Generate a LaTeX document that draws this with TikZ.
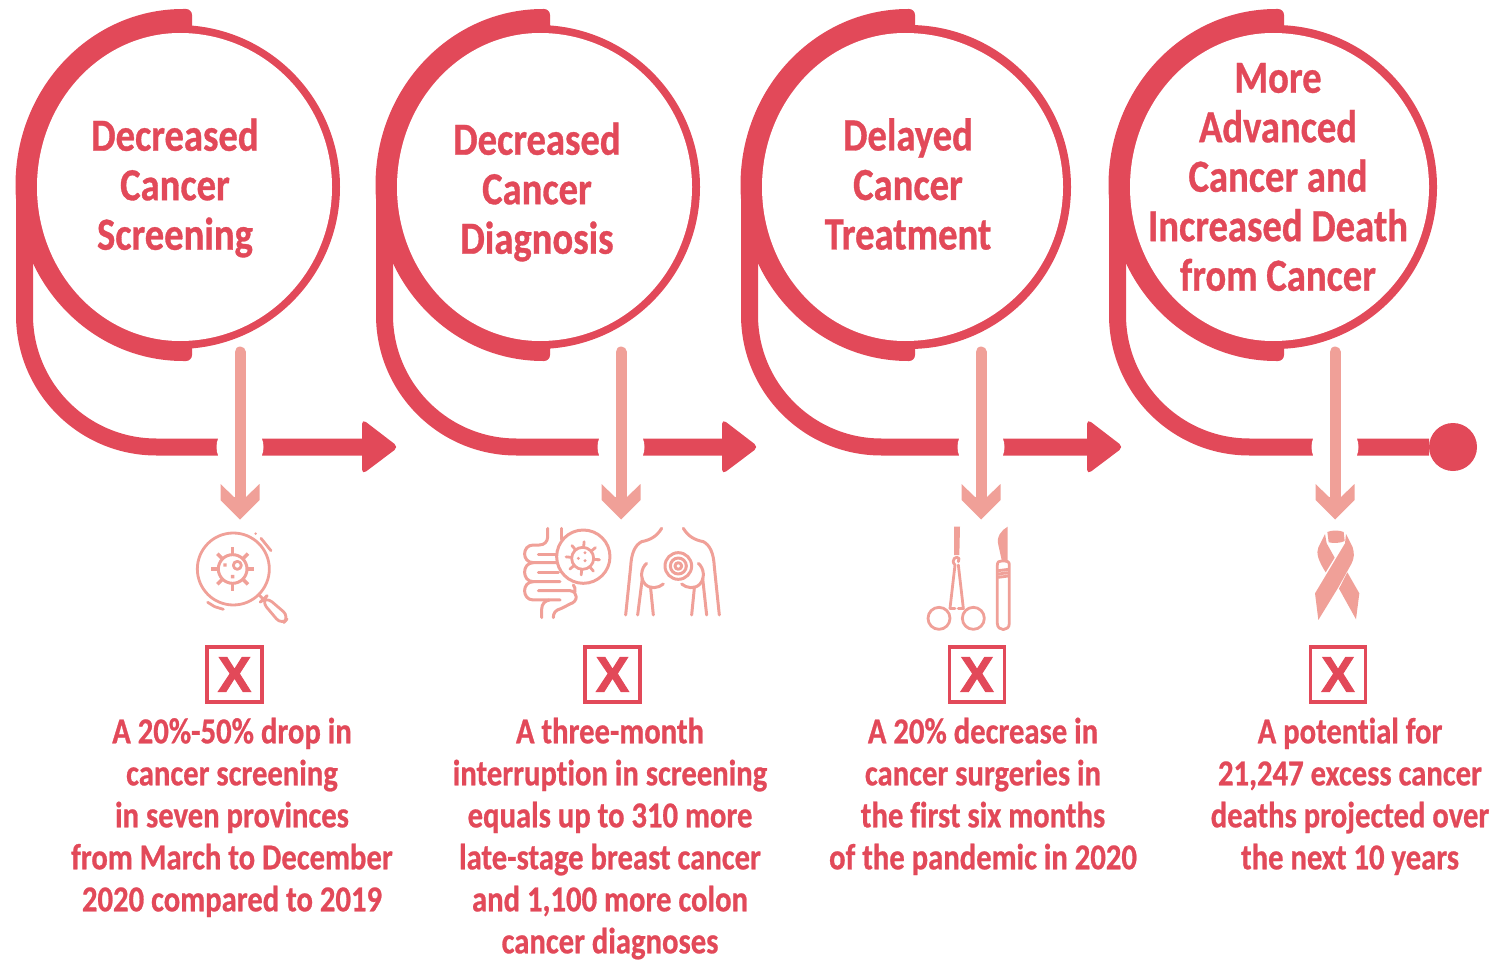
\documentclass[tikz,border=0pt]{standalone}
\usepackage{fontspec}
\setmainfont{Carlito}[FakeStretch=0.84,Ligatures=NoCommon,BoldFeatures={FakeBold=0.7}]
\newfontfamily\crossfont{Liberation Sans}[BoldFeatures={FakeBold=2}]
\usetikzlibrary{positioning}

\definecolor{ringred}{RGB}{226,73,89}
\definecolor{droppink}{RGB}{240,160,152}

\tikzset{
	ringnode/.style={circle,draw=ringred,fill=ringred,line width=8pt,minimum size=316pt,inner sep=0pt,outer sep=0pt},
	leadline/.style={draw=ringred,line width=17pt},
	dropline/.style={draw=droppink,line width=11pt},
	gapdisc/.style={circle,fill=white,minimum size=47pt,inner sep=0pt,outer sep=0pt},
	enddot/.style={circle,fill=ringred,minimum size=48pt,inner sep=0pt,outer sep=0pt},
	titletext/.style={align=center,text=ringred,font=\fontsize{46}{49.5}\selectfont\bfseries,inner sep=0pt},
	bodytext/.style={align=center,anchor=north,text=ringred,font=\fontsize{36.5}{42}\selectfont\bfseries,inner sep=0pt},
	xbox/.style={draw=ringred,line width=3.6pt,minimum size=55pt,inner sep=0pt,text=ringred,font=\fontsize{50}{50}\selectfont\crossfont\bfseries},
	iconline/.style={draw=droppink,line width=2.8pt,line cap=round,line join=round,fill=none},
	drophead/.pic={\fill[droppink] (-19.5,-16) -- (-6,-3) -- (6,-3) -- (19.5,-16) -- (19.5,0) -- (0,19.5) -- (-19.5,0) -- cycle;},
	leadhead/.pic={\fill[ringred,rounded corners=5pt] (-13,-28) -- (23.5,0) -- (-13,27.5) -- cycle;}
}

\begin{document}
\begin{tikzpicture}[x=1pt,y=-1pt]

	\useasboundingbox (0,0) rectangle (1503,960);

	\foreach \n/\dx/\rx/\sx/\dropx in {1/0/0/192/240,2/360/0/190/621,3/725/6/190/981,4/1093/4/191/1335}{

		\coordinate (lead\n) at (\dx+24.5,190);
		\coordinate (tip\n) at (\dx+375,447);
		\coordinate (dropa\n) at (\dropx,352);
		\coordinate (dropb\n) at (\dropx,500);

		% thick part of the ring
		\fill[ringred] (\dx+\sx,30) -- (\dx+\sx,15) arc[radius=6,start angle=0,end angle=-90] -- (\dx+183,9) arc[x radius=167.5,y radius=176,start angle=270,end angle=90] -- (\dx+\sx-6,361) arc[radius=6,start angle=90,end angle=0] -- (\dx+\sx,340) -- cycle;

		\node[ringnode] (ring\n) at (\dx+\rx+178,187) {};
		\fill[white] (\dx+180,33) arc[x radius=143,y radius=154,start angle=270,end angle=90] arc[x radius=\rx+152,y radius=154,start angle=90,end angle=-90] -- cycle;

		\ifnum\n<4
			\draw[leadline] (lead\n) -- ++(0,125) arc[radius=132,start angle=180,end angle=90] -- (tip\n);
			\pic at (tip\n) {leadhead};
		\else
			\node[enddot] (stop) at (1453,447) {};
			\draw[leadline] (lead\n) -- ++(0,125) arc[radius=132,start angle=180,end angle=90] -- (stop);
		\fi

		\node[gapdisc] (gap\n) at (\dropx,447) {};
		\draw[dropline,line cap=round] (dropa\n) -- (dropb\n);
		\pic at (dropb\n) {drophead};
	}

	\node[titletext] (title1) at (175,188) {Decreased\\Cancer\\Screening};
	\node[titletext] (title2) at (537,192) {Decreased\\Cancer\\Diagnosis};
	\node[titletext] (title3) at (908,184) {Delayed\\Cancer\\Treatment};
	\node[titletext] (title4) at (1278,177) {More\\Advanced\\Cancer and\\Increased Death\\from Cancer};

	\node[xbox] (cross1) at (234.5,674.5) {X};
	\node[xbox] (cross2) at (612.5,674.5) {X};
	\node[xbox] (cross3) at (977,674.5) {X};
	\node[xbox] (cross4) at (1338,674.5) {X};

	\node[bodytext] (text1) at (232,717.5) {A 20\%-50\% drop in\\cancer screening\\in seven provinces\\from March to December\\2020 compared to 2019};
	\node[bodytext] (text2) at (610,717.5) {A three-month\\interruption in screening\\equals up to 310 more\\late-stage breast cancer\\and 1,100 more colon\\cancer diagnoses};
	\node[bodytext] (text3) at (983,717.5) {A 20\% decrease in\\cancer surgeries in\\the first six months\\of the pandemic in 2020};
	\node[bodytext] (text4) at (1350,717.5) {A potential for\\21,247 excess cancer\\deaths projected over\\the next 10 years};

	% magnifier
	\begin{scope}[shift={(180,500)},x=0.3333pt,y=-0.3333pt]
		\draw[iconline] (160,207) circle[radius=108];
		\draw[iconline,line width=3pt] (158,207) circle[radius=43];
		\draw[iconline] (172,196) circle[radius=12];
		\foreach \a in {0,45,...,315}{
			\draw[iconline,line width=3.6pt,line cap=butt] (158,207) ++(\a:43) -- ++(\a:22);
		}
		\fill[droppink] (130,190) rectangle (140,200) (153,225) rectangle (163,235);
		\draw[iconline] (83,307) -- (104,320) -- (130,328);
		\draw[iconline] (243,115) -- (273,152);
		\fill[droppink] (227,101) circle[radius=4];
		\draw[iconline] (237,285) -- (250,297);
		\draw[iconline,rounded corners=8pt] (244,303) -- (258,290) -- (328,350) -- (305,375) -- cycle;
	\end{scope}

	% bowel and breast
	\begin{scope}[shift={(510,510)},x=0.3333pt,y=-0.3333pt]
		\draw[iconline,line width=3pt] (220,140) circle[radius=80];
		\draw[iconline] (218,145) circle[radius=33];
		\foreach \a in {5,50,...,365}{
			\draw[iconline] (218,145) ++(\a:33) -- ++(\a:17);
		}
		\fill[droppink] (205,145) circle[radius=5] (225,128) circle[radius=5] (225,152) circle[radius=5];
		\draw[iconline,line width=3pt] (113,55) -- (113,80) .. controls (113,95) and (103,105) .. (88,105) -- (70,105) .. controls (35,105) and (35,158) .. (70,158) -- (140,158);
		\draw[iconline,line width=3pt] (155,55) -- (155,88);
		\draw[iconline,line width=3pt] (85,132) -- (138,132);
		\draw[iconline,line width=3pt] (85,188) -- (145,188);
		\draw[iconline,line width=3pt] (70,158) .. controls (35,158) and (35,215) .. (70,215) -- (150,215);
		\draw[iconline,line width=3pt] (85,242) -- (180,242) .. controls (205,245) and (205,275) .. (180,282) -- (155,295) .. controls (135,300) and (130,310) .. (130,323);
		\draw[iconline,line width=3pt] (70,215) .. controls (35,215) and (35,270) .. (70,270) -- (150,270);
		\draw[iconline,line width=3pt] (190,225) .. controls (195,232) and (196,236) .. (195,245);
		\draw[iconline,line width=3pt] (95,323) -- (95,298) .. controls (95,282) and (105,272) .. (118,270);
		\draw[iconline,line width=3pt] (455,55) .. controls (440,80) and (420,90) .. (395,95) .. controls (375,105) and (364,130) .. (362,170) -- (347,315);
		\draw[iconline,line width=3pt] (520,55) .. controls (535,80) and (555,90) .. (580,95) .. controls (600,105) and (611,130) .. (613,170) -- (628,315);
		\draw[iconline,line width=3pt] (410,160) .. controls (392,175) and (390,205) .. (405,222) .. controls (420,238) and (445,235) .. (460,222);
		\draw[iconline,line width=3pt] (397,205) -- (383,315) (422,235) -- (430,315);
		\draw[iconline,line width=3pt] (565,160) .. controls (583,175) and (585,205) .. (570,222) .. controls (555,238) and (530,235) .. (515,222);
		\draw[iconline,line width=3pt] (578,205) -- (590,315) (553,235) -- (545,315);
		\draw[iconline,line width=3pt] (505,168) circle[radius=40] (505,168) circle[radius=24] (505,168) circle[radius=10];
	\end{scope}

	% forceps and scalpel
	\begin{scope}[shift={(910,510)},x=0.3333pt,y=-0.3333pt]
		\fill[droppink] (132,50) -- (150,50) -- (148,135) -- (132,135) -- cycle;
		\draw[iconline] (87,325) circle[radius=33] (190,325) circle[radius=33];
		\draw[iconline] (120,295) -- (135,165) .. controls (120,150) and (140,135) .. (147,145) -- (145,155);
		\draw[iconline] (160,295) -- (145,165);
		\draw[iconline] (120,295) -- (135,295) (145,295) -- (160,295);
		\fill[droppink] (293,50) .. controls (275,60) and (258,80) .. (265,105) -- (275,150) -- (293,150) -- cycle;
		\draw[iconline] (262,165) .. controls (262,155) and (268,153) .. (275,153) -- (285,153) .. controls (292,153) and (298,155) .. (298,165) -- (298,340) .. controls (298,365) and (262,365) .. (262,340) -- cycle;
		\draw[iconline] (265,182) -- (295,178) (265,192) -- (295,188) (265,202) -- (295,198);
	\end{scope}

	% ribbon
	\begin{scope}[shift={(1290,510)},x=0.3333pt,y=-0.3333pt]
		\fill[droppink] (112,66) .. controls (125,60) and (148,60) .. (161,66) -- (164,93) .. controls (150,100) and (130,100) .. (116,97) -- cycle;
		\fill[droppink] (168,72) -- (188,112) .. controls (194,130) and (192,145) .. (185,160) -- (145,232) -- (85,330) -- (75,250) -- (165,100) -- cycle;
		\fill[droppink] (105,72) -- (85,112) .. controls (78,130) and (84,150) .. (107,187) -- (134,143) -- (110,100) -- cycle;
		\fill[droppink] (172,187) -- (208,250) -- (198,328) -- (147,236) -- cycle;
	\end{scope}

\end{tikzpicture}
\end{document}
